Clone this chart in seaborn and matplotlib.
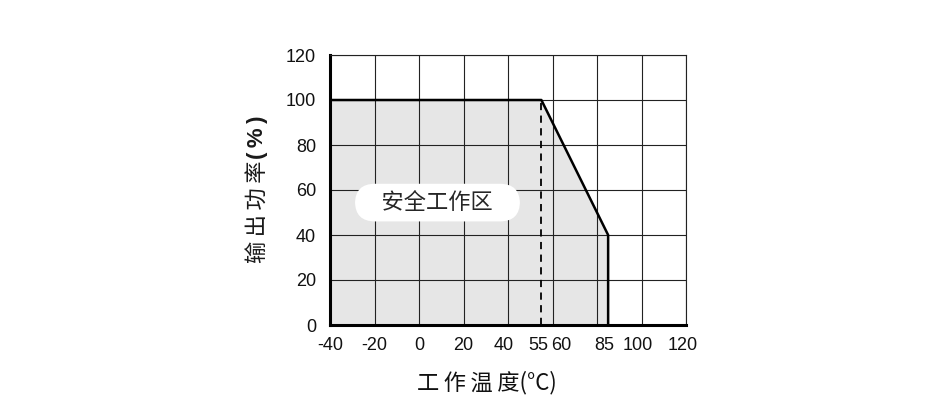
# %%
# Derating curve: output power vs operating temperature

import pandas as pd
import seaborn as sns
import matplotlib.pyplot as plt
import matplotlib.transforms as mtransforms

temps = [-40, 55, 85, 85]          # 工作温度 (°C)
power = [100, 100, 40, 0]          # 输出功率 (%)
derate_start = 55
xtick_vals = [-40, -20, 0, 20, 40, 55, 60, 85, 100, 120]
grid_x = [-40, -20, 0, 20, 40, 60, 80, 100, 120]
grid_y = [0, 20, 40, 60, 80, 100, 120]

df = pd.DataFrame({'temp': temps, 'power': power})

sns.set_style('white')
plt.rcParams['font.family'] = ['Liberation Sans', 'Noto Sans CJK SC', 'DejaVu Sans']
plt.rcParams['axes.unicode_minus'] = False
cjk = ['Noto Sans CJK SC', 'DejaVu Sans']

fig = plt.figure(figsize=(9.3, 4), dpi=100)
ax = fig.add_axes([330/930, 75/400, 356/930, 270/400])

# safe operating area
ax.fill_between(df['temp'], df['power'], color='#e6e6e6', zorder=1, lw=0)
sns.lineplot(x='temp', y='power', data=df, sort=False, estimator=None, color='black',
             linewidth=1.8, ax=ax, zorder=4)
ax.plot([derate_start, derate_start], [0, 100], color='black', lw=1.3, ls=(0, (4, 3)), zorder=4)

ax.set_xlim(-40, 120)
ax.set_ylim(0, 120)

# grid every 20 units
for gx in grid_x:
    ax.axvline(gx, color='#222222', lw=0.8, zorder=2)
for gy in grid_y:
    ax.axhline(gy, color='#222222', lw=0.8, zorder=2)

ax.set_xticks(xtick_vals)
ax.set_yticks(grid_y)
ax.tick_params(which='both', length=0, labelsize=13, colors='#111111')
ax.tick_params(axis='x', pad=9)
ax.tick_params(axis='y', pad=10)

# nudge crowded labels like the original
shifts = {55: -3, 60: 9, 85: -4, 100: -4, 120: -3, 40: -4}
for lab, v in zip(ax.get_xticklabels(), xtick_vals):
    if v in shifts:
        lab.set_transform(lab.get_transform() + mtransforms.ScaledTranslation(shifts[v]/100, 0, fig.dpi_scale_trans))

for s in ['left', 'bottom']:
    ax.spines[s].set_linewidth(2.2)
    ax.spines[s].set_color('black')
for s in ['top', 'right']:
    ax.spines[s].set_linewidth(0.8)
    ax.spines[s].set_color('#222222')
for s in ax.spines.values():
    s.set_zorder(5)

ax.set_xlabel('工\u2009作\u2009温\u2009度(°C)', fontsize=16, family=cjk, color='#111111')
ax.xaxis.set_label_coords(0.44, -0.17)
ax.set_ylabel('')  # drawn by hand below

# y label: chinese part regular, "(%)" bold
fig.text(257/930, 0.47, '输\u2009出\u2009功\u2009率', rotation=90, fontsize=16, family=cjk,
         color='#1a1a1a', ha='center', va='center')
fig.text(257/930, 0.656, '(\u2009%\u2009)', rotation=90, fontsize=16, fontweight='bold',
         family=['Liberation Sans', 'DejaVu Sans'], color='#1a1a1a', ha='center', va='center')

ax.text(8.3, 54.4, '\u2009   安全工作区   \u2009', fontsize=16, family=cjk, ha='center', va='center', zorder=6,
        bbox=dict(boxstyle='round,pad=0.33,rounding_size=0.9', fc='white', ec='none'))

plt.savefig('out.png', dpi=100)
